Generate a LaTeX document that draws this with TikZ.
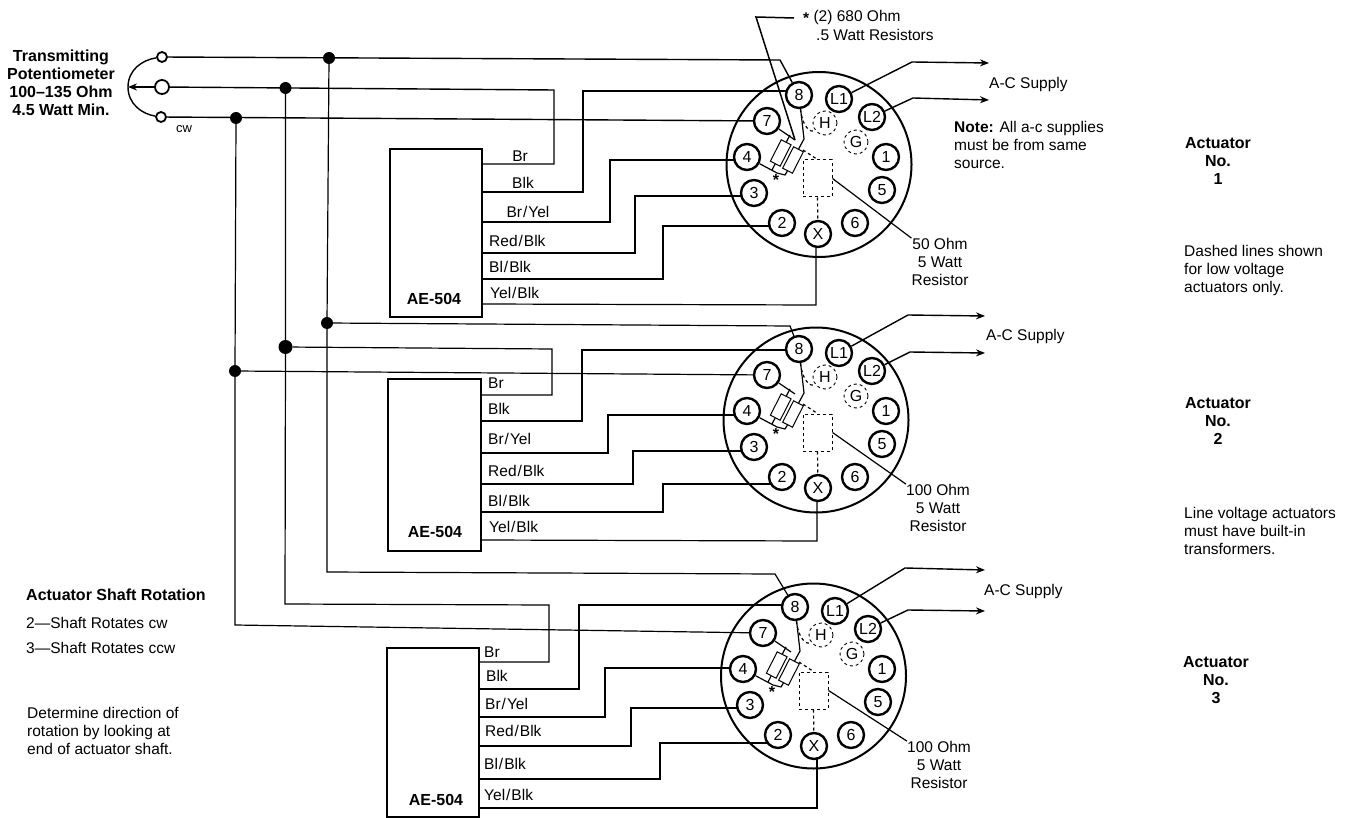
\documentclass[tikz,border=0pt]{standalone}
\usepackage{fontspec}
\setmainfont{Liberation Sans}
\usetikzlibrary{backgrounds,arrows.meta}
\newcommand{\wsl}{\kern1pt/\kern1pt}
\tikzset{
  txt/.style={inner sep=0pt, font=\fontsize{15.5}{18}\selectfont},
  txtb/.style={inner sep=0pt, font=\fontsize{16}{18}\selectfont\bfseries},
  wire/.style={line width=1.2pt},
  pinnode/.style={draw, circle, fill=white, line width=2.4pt, minimum size=26pt, inner sep=0pt, font=\fontsize{16}{16}\selectfont},
  dashpin/.style={draw, circle, dashed, line width=0.9pt, minimum size=24pt, inner sep=0pt, font=\fontsize{16}{16}\selectfont},
  junction/.style={circle, fill=black, inner sep=0pt, minimum size=#1},
  terminal/.style={draw, circle, fill=white, line width=1.8pt, inner sep=0pt, minimum size=#1},
  unitbox/.style={draw, line width=2pt, inner sep=0pt},
  resbox/.style={draw, line width=1pt, fill=white, inner sep=0pt, minimum width=24pt, minimum height=11pt, rotate=63},
  dashbox/.style={draw, dashed, line width=1pt, inner sep=0pt, minimum width=29pt, minimum height=37pt}
}
\begin{document}
\begin{tikzpicture}[x=1pt, y=-1pt, >={Stealth[length=9pt, width=7pt]}]
  \useasboundingbox (0,0) rectangle (1351,818);

  % Potentiometer
  \node[terminal=10pt] (t1) at (162,57) {};
  \node[terminal=14pt] (t2) at (162,87) {};
  \node[terminal=10pt] (t3) at (161,117) {};
  \coordinate (wiper) at (128,87);
  \node[txtb, align=center] (pot) at (61,83) {Transmitting\\Potentiometer\\100--135 Ohm\\4.5 Watt Min.};
  \node[txt, font=\fontsize{13}{15}\selectfont] (cw) at (184,129) {cw};

  % Points de raccordement
  \node[junction=12pt] (d1a) at (329,58) {};
  \node[junction=12pt] (d2a) at (285.5,88) {};
  \node[junction=12pt] (d3a) at (236,118) {};
  \node[junction=12pt] (d1b) at (327,323) {};
  \node[junction=14pt] (d2b) at (285.5,347) {};
  \node[junction=12pt] (d3b) at (235,371) {};

  % Actuators
  \foreach \a/\dx/\dy/\rimx/\rimy in {1/0/0/819/164.5, 2/0/254/816/420, 3/-4/512/813.5/676} {
    \draw[line width=2pt] (\rimx,\rimy) circle (92.5pt);
    \begin{scope}[shift={(\dx,\dy)}]
      \foreach \p/\x/\y in {8/799/95, L1/839/99, L2/872/117, 7/767/121, 4/747/157, 3/754/193, 2/782/223, X/818/234, 6/855/223, 5/882/190, 1/886/157} {
        \node[pinnode] (a\a-\p) at (\x,\y) {\p};
      }
      \node[dashpin] (a\a-H) at (825,123) {H};
      \node[dashpin] (a\a-G) at (856,142) {G};
      \node[dashbox] (a\a-r) at (817.5,178.5) {};
      \node[resbox] (a\a-ra) at (780.7,153) {};
      \node[resbox] (a\a-rb) at (793,160) {};
      \coordinate (a\a-j7) at (795,140);
      \coordinate (a\a-j7a) at (790,135);
      \coordinate (a\a-j8) at (804,139);
      \coordinate (a\a-j4) at (777,173);
      \coordinate (a\a-j4a) at (772,170);
      \coordinate (a\a-j4b) at (785,175);
      \coordinate (a\a-jd) at (803,150);
      \node[txt, font=\fontsize{16}{16}\selectfont\bfseries] (a\a-star) at (776,180) {*};
      \draw[wire] (a\a-7) -- (a\a-j7);
      \draw[wire] (a\a-ra.east) -- (a\a-j7a);
      \draw[wire] (a\a-8) -- (a\a-j8) -- (a\a-rb.east);
      \draw[wire] (a\a-4) -- (a\a-j4) -- (a\a-j4b) -- (a\a-rb.west);
      \draw[wire] (a\a-ra.west) -- (a\a-j4a);
      \draw[wire, dashed] (a\a-jd) -- (a\a-r.north);
      \draw[wire, dashed] (a\a-r.south) -- (a\a-X);
      \draw[wire, dashed] (a\a-8) .. controls (802,125) and (810,134) .. (a\a-H);
    \end{scope}
  }

  % Boxes
  \node[unitbox, minimum width=92pt, minimum height=168pt] (box1) at (436,233) {};
  \node[unitbox, minimum width=93pt, minimum height=172pt] (box2) at (434.5,465) {};
  \node[unitbox, minimum width=92pt, minimum height=169pt] (box3) at (433,732.5) {};
  \node[txtb] (ae1) at (434,299) {AE-504};
  \node[txtb] (ae2) at (435,532) {AE-504};
  \node[txtb] (ae3) at (436,800) {AE-504};

  % Labels du premier
  \node[txt] (l1a) at (520,156) {Br};
  \node[txt] (l1b) at (523,183) {Blk};
  \node[txt] (l1c) at (528,212) {Br\wsl Yel};
  \node[txt, anchor=west] (l1d) at (489,241) {Red\wsl Blk};
  \node[txt, anchor=west] (l1e) at (489,267) {Bl\wsl Blk};
  \node[txt, anchor=west] (l1f) at (490,293) {Yel\wsl Blk};
  % Labels du second
  \node[txt, anchor=west] (l2a) at (488,383) {Br};
  \node[txt, anchor=west] (l2b) at (488,409) {Blk};
  \node[txt, anchor=west] (l2c) at (488,439) {Br\wsl Yel};
  \node[txt, anchor=west] (l2d) at (488,471) {Red\wsl Blk};
  \node[txt, anchor=west] (l2e) at (488,501) {Bl\wsl Blk};
  \node[txt, anchor=west] (l2f) at (489,527) {Yel\wsl Blk};
  % Labels du troisieme
  \node[txt, anchor=west] (l3a) at (484,652) {Br};
  \node[txt, anchor=west] (l3b) at (486,676) {Blk};
  \node[txt, anchor=west] (l3c) at (485,704) {Br\wsl Yel};
  \node[txt, anchor=west] (l3d) at (485,731) {Red\wsl Blk};
  \node[txt, anchor=west] (l3e) at (484,764) {Bl\wsl Blk};
  \node[txt, anchor=west] (l3f) at (484,795) {Yel\wsl Blk};

  % Annotations
  \node[txt, anchor=west] (lead1) at (803,17) {\raisebox{-0.35ex}{\textbf{*}} (2) 680 Ohm};
  \node[txt, anchor=west] (lead2) at (816,35) {.5 Watt Resistors};
  \coordinate (leadend) at (794,18);
  \node[txt, anchor=west] (ac1) at (989,84) {A-C Supply};
  \node[txt, anchor=west] (ac2) at (986,336) {A-C Supply};
  \node[txt, anchor=west] (ac3) at (984,591) {A-C Supply};
  \node[txt, anchor=west, align=left] (note) at (954,145) {\textbf{Note:} All a-c supplies\\must be from same\\source.};
  \node[txt, align=center] (ohm1) at (940,262) {50 Ohm\\5 Watt\\Resistor};
  \node[txt, align=center] (ohm2) at (938,508) {100 Ohm\\5 Watt\\Resistor};
  \node[txt, align=center] (ohm3) at (939,765) {100 Ohm\\5 Watt\\Resistor};
  \node[txtb, align=center] (no1) at (1218,161) {Actuator\\No.\\1};
  \node[txtb, align=center] (no2) at (1218,421) {Actuator\\No.\\2};
  \node[txtb, align=center] (no3) at (1216,680) {Actuator\\No.\\3};
  \node[txt, anchor=west, align=left] (lowv) at (1184,270) {Dashed lines shown\\for low voltage\\actuators only.};
  \node[txt, anchor=west, align=left] (linev) at (1184,531) {Line voltage actuators\\must have built-in\\transformers.};
  \node[txtb, anchor=west] (rot) at (26,595) {Actuator Shaft Rotation};
  \node[txt, anchor=west] (rot2) at (26,623) {2---Shaft Rotates cw};
  \node[txt, anchor=west] (rot3) at (26,648) {3---Shaft Rotates ccw};
  \node[txt, anchor=west, align=left] (rotn) at (27,731) {Determine direction of\\rotation by looking at\\end of actuator shaft.};

  \begin{pgfonlayer}{background}
    % Potentiometre
    \draw[wire, line width=1.4pt] (t1) .. controls (142,60) and (128,70) .. (wiper) .. controls (128,104) and (142,114) .. (t3);
    \draw[->, line width=1.4pt] (t2) -- (wiper);

    % Lignes verticales
    \draw[wire] (d1a) -- (d1b) -- (327,572) -- (775,574) -- (a3-8);
    \draw[wire] (d2a) -- (d2b) -- (285,604) -- (549,605) -- (549,662) -- (box3.east |- 0,662);
    \draw[wire] (d3a) -- (d3b) -- (235,625) -- (a3-7);

    % Lignes horizontales
    \draw[wire, line width=1.4pt] (t1) -- (780,60) -- (a1-8);
    \draw[wire, line width=1.4pt] (t2) -- (554,90) -- (554,164) -- (box1.east |- 0,164);
    \draw[wire, line width=1.4pt] (t3) -- (a1-7);
    \draw[wire] (d1b) -- (790,326) -- (a2-8);
    \draw[wire] (d2b) -- (552,349) -- (552,395) -- (box2.east |- 0,395);
    \draw[wire] (d3b) -- (a2-7);

    % Fils vers les broches
    \foreach \a/\y/\xv/\yt/\p in {
      1/192/583/91/8, 1/222/610/160/4, 1/253/635/196/3, 1/279/663/226/2,
      2/421/582/350/8, 2/453/608/415/4, 2/484/633/451/3, 2/512/663/484/2,
      3/689/579/605/8, 3/717/605/668/4, 3/746/631/708/3, 3/779/660/743/2} {
      \draw[wire] (box\a.east |- 0,\y) -| (\xv,\yt) -- (a\a-\p.center |- \xv,\yt);
    }
    \draw[wire] (box1.east |- 0,304) -- (816,305) -- (a1-X.center -| 816,0);
    \draw[wire] (box2.east |- 0,540) -- (817,541) -- (a2-X.center -| 817,0);
    \draw[wire] (box3.east |- 0,808) -- (817,808) -- (a3-X.center -| 817,0);

    % Alimentation
    \draw[wire, ->, line width=1.4pt] (a1-L1) -- (912,62) -- (989,63);
    \draw[wire, ->, line width=1.4pt] (a1-L2) -- (913,98) -- (989,100);
    \draw[wire, ->, line width=1.4pt] (a2-L1) -- (908,315) -- (985,316);
    \draw[wire, ->, line width=1.4pt] (a2-L2) -- (910,352) -- (985,353);
    \draw[wire, ->, line width=1.4pt] (a3-L1) -- (905,568) -- (985,570);
    \draw[wire, ->, line width=1.4pt] (a3-L2) -- (908,610) -- (985,611);

    % Repere des resistances
    \draw[wire, line width=1.5pt] (leadend) -- (756,17) -- (a1-j7);
    \draw[wire] (a1-r.east) -- (ohm1.north west);
    \draw[wire] (a2-r.east) -- (ohm2.north west);
    \draw[wire] (a3-r.east) -- (ohm3.north west);
  \end{pgfonlayer}
\end{tikzpicture}
\end{document}
